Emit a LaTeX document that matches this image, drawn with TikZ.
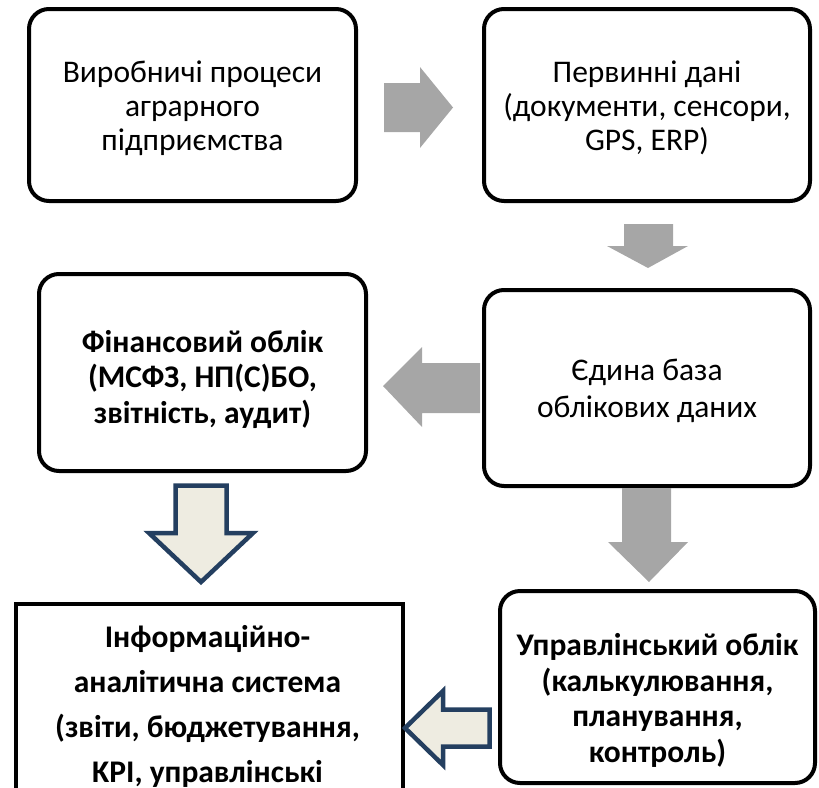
\documentclass[tikz,border=0pt]{standalone}
\usepackage{fontspec}
\setmainfont{Carlito}
\usetikzlibrary{calc}
\definecolor{arrgray}{RGB}{166,166,166}
\definecolor{arrblue}{RGB}{36,63,96}
\definecolor{arrfill}{RGB}{238,236,225}
\tikzset{
  box/.style={draw=black, line width=4pt, rounded corners=20pt, fill=white, inner sep=0pt},
  sqbox/.style={draw=black, line width=4pt, fill=white, inner sep=0pt},
  txt/.style={align=center, inner sep=0pt, anchor=base, font=\fontsize{31.5}{34}\selectfont},
  btxt/.style={align=center, inner sep=0pt, anchor=base, font=\fontsize{31.5}{35.5}\selectfont\bfseries},
  grayarr/.style={fill=arrgray, draw=none},
  bluearr/.style={fill=arrfill, draw=arrblue, line width=4.5pt, line join=miter},
}
\begin{document}
\begin{tikzpicture}[x=1pt, y=-1pt]
\useasboundingbox (0,0) rectangle (819,787);
\clip (0,0) rectangle (819,787);
% boxes
\node[box, minimum width=327pt, minimum height=192pt] (b1) at (192.5,105) {};
\node[txt] (t1) at (192.5,150) {Виробничі процеси\\аграрного\\підприємства};
\node[box, minimum width=326pt, minimum height=192pt] (b2) at (647,105) {};
\node[txt] (t2) at (647,150) {Первинні дані\\(документи, сенсори,\\GPS, ERP)};
\node[box, minimum width=327pt, minimum height=197pt] (b3) at (202.5,372.5) {};
\node[btxt] (t3) at (202.5,423) {Фінансовий облік\\(МСФЗ, НП(С)БО,\\звітність, аудит)};
\node[box, minimum width=326pt, minimum height=196pt] (b4) at (647,388) {};
\node[txt, font=\fontsize{31.5}{37}\selectfont] (t4) at (647,417) {Єдина база\\облікових даних};
\node[sqbox, anchor=north west, minimum width=387pt, minimum height=300pt] (b5) at (14,602) {};
\node[btxt, font=\fontsize{31.5}{45}\selectfont\bfseries] (t5) at (207.5,782) {Інформаційно-\\аналітична система\\(звіти, бюджетування,\\KPI, управлінські};
\node[box, minimum width=315pt, minimum height=192pt] (b6) at (657.5,687) {};
\node[btxt, font=\fontsize{31.5}{35.5}\selectfont\bfseries] (t6) at (657.5,762) {Управлінський облік\\(калькулювання,\\планування,\\контроль)};
% gray block arrows
\fill[grayarr] (384,83) -- (420,83) -- (420,67) -- (453,107.5) -- (420,148) -- (420,132) -- (384,132) -- cycle;
\fill[grayarr] (624,224) -- (673,224) -- (673,246) -- (688,246) -- (648,268) -- (607,246) -- (624,246) -- cycle;
\fill[grayarr] (480,363) -- (422,363) -- (422,347) -- (383,386) -- (422,427) -- (422,413) -- (480,413) -- cycle;
\fill[grayarr] (622,488) -- (671,488) -- (671,542) -- (688,542) -- (649,582) -- (608,542) -- (622,542) -- cycle;
% outlined block arrows
\draw[bluearr] (175.5,485.5) -- (226.5,485.5) -- (226.5,533) -- (253,533) -- (201,582) -- (149,533) -- (175.5,533) -- cycle;
\draw[bluearr] (489.5,709.5) -- (443,709.5) -- (443,691) -- (405,728) -- (443,765) -- (443,746.5) -- (489.5,746.5) -- cycle;
\end{tikzpicture}
\end{document}
